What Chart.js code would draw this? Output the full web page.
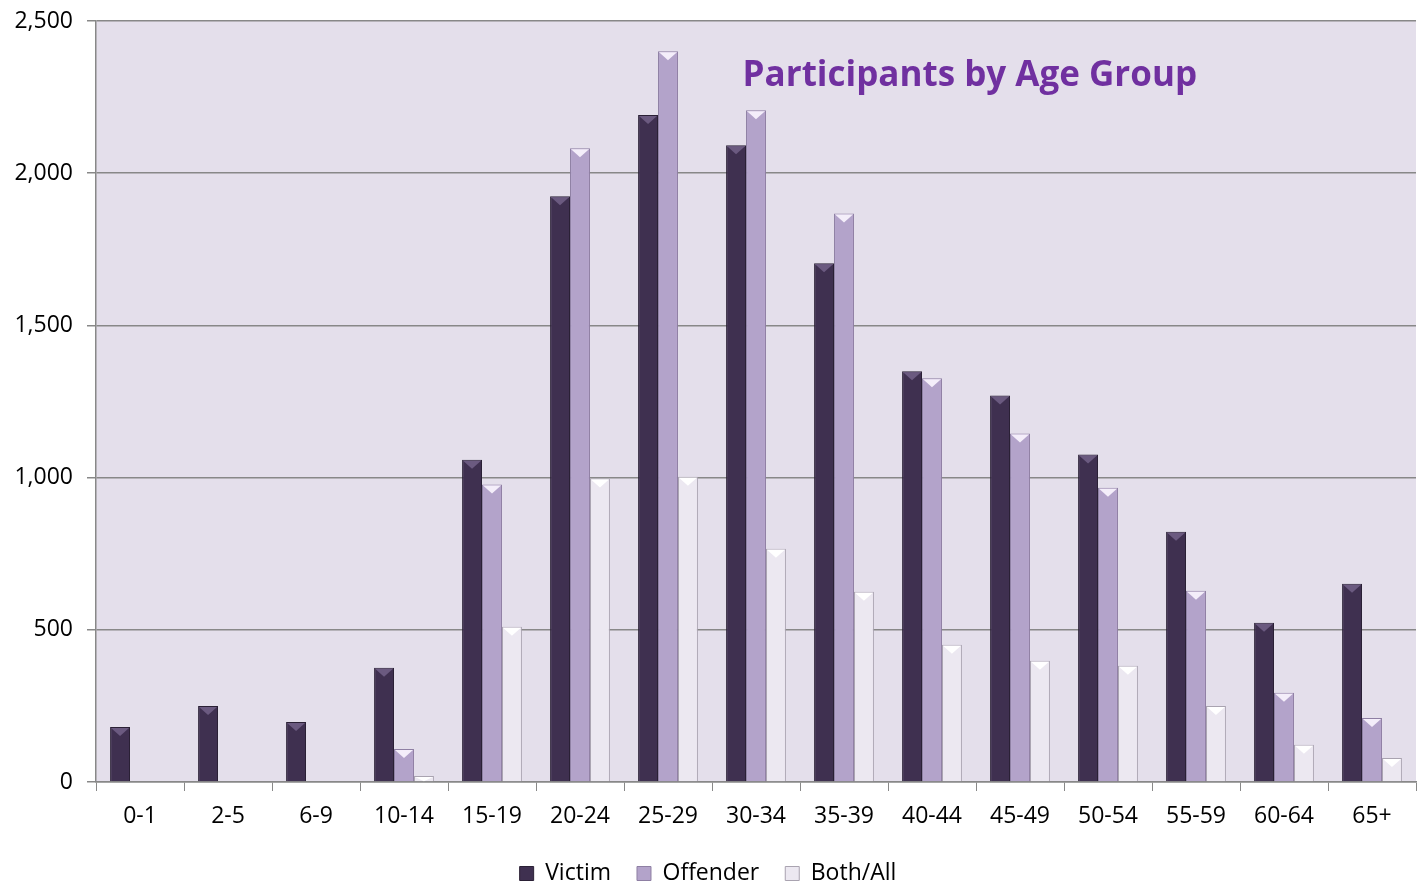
<!DOCTYPE html>
<html>
<head>
<meta charset="utf-8">
<script src="https://cdn.jsdelivr.net/npm/chart.js@4"></script>
<style>
  html, body { margin: 0; padding: 0; background: #fff; }
  #wrap { width: 1426px; height: 888px; }
</style>
</head>
<body>
<div id="wrap"><canvas id="agechart"></canvas></div>
<script>
const ageGroups = ['0-1','2-5','6-9','10-14','15-19','20-24','25-29','30-34','35-39','40-44','45-49','50-54','55-59','60-64','65+'];
const victim   = [181, 250, 197, 375, 1059, 1924, 2191, 2092, 1704, 1349, 1270, 1076, 822, 523, 651];
const offender = [0, 0, 0, 108, 977, 2082, 2401, 2207, 1868, 1326, 1145, 967, 628, 293, 210];
const bothAll  = [0, 0, 0, 20, 510, 997, 1003, 766, 625, 451, 398, 382, 250, 122, 79];
const yTicks = [0, 500, 1000, 1500, 2000, 2500];

const FONT = '"Open Sans", "DejaVu Sans", sans-serif';

// plot area fill + title drawn inside it
const plotDeco = {
  id: 'plotDeco',
  beforeDraw(chart) {
    const a = chart.chartArea, c = chart.ctx;
    c.save();
    c.fillStyle = '#E4DFEB';
    c.fillRect(a.left, a.top, a.right - a.left, a.bottom - a.top);
    c.restore();
  },
  afterDatasetsDraw(chart) {
    const c = chart.ctx, a = chart.chartArea;
    // little pyramid caps on bar tops
    chart.data.datasets.forEach((ds, i) => {
      const meta = chart.getDatasetMeta(i);
      meta.data.forEach((bar, j) => {
        if (!ds.data[j]) return;
        const w = bar.width, x = bar.x, y = bar.y;
        c.save();
        c.fillStyle = ds.capColor;
        c.beginPath();
        c.moveTo(x - w / 2 + 1, y + 1);
        c.lineTo(x + w / 2 - 1, y + 1);
        c.lineTo(x, y + Math.min(9, bar.base - y));
        c.closePath();
        c.fill();
        c.restore();
      });
    });
    c.save();
    c.font = 'bold 35px ' + FONT;
    c.fillStyle = '#7030A0';
    c.textAlign = 'center';
    c.textBaseline = 'middle';
    c.fillText('Participants by Age Group', a.left + (a.right - a.left) * 0.662, a.top + 55);
    c.restore();
  }
};

new Chart(document.getElementById('agechart'), {
  type: 'bar',
  data: {
    labels: ageGroups,
    datasets: [
      { label: 'Victim', data: victim, backgroundColor: '#3F3050', borderColor: '#2A2035', borderWidth: 1, capColor: '#6B5A80' },
      { label: 'Offender', data: offender, backgroundColor: '#B3A3CA', borderColor: '#8E7FA3', borderWidth: 1, capColor: '#F4EEFA' },
      { label: 'Both/All', data: bothAll, backgroundColor: '#ECE8F1', borderColor: '#A9A3B0', borderWidth: 1, capColor: '#FFFFFF' }
    ]
  },
  options: {
    responsive: true,
    maintainAspectRatio: false,
    animation: false,
    layout: { padding: { top: 21, right: 10, left: 0, bottom: -7 } },
    datasets: { bar: { categoryPercentage: 0.68, barPercentage: 1.0 } },
    plugins: {
      legend: {
        position: 'bottom',
        labels: {
          font: { family: FONT, size: 23 },
          color: '#000',
          boxWidth: 14,
          boxHeight: 14,
          padding: 26
        }
      },
      title: { display: false },
      tooltip: { enabled: false }
    },
    scales: {
      x: {
        grid: { display: true, drawOnChartArea: false, color: '#888', tickLength: 9 },
        border: { color: '#888', width: 1.5 },
        ticks: { font: { family: FONT, size: 23 }, color: '#000', padding: 12, maxRotation: 0 },
        afterFit(s) { s.height = 54; }
      },
      y: {
        min: 0, max: 2500,
        afterBuildTicks(s) { s.ticks = yTicks.map(v => ({ value: v })); },
        grid: { color: '#888', lineWidth: 1.5, tickLength: 9 },
        border: { color: '#888', width: 1.5 },
        ticks: {
          font: { family: FONT, size: 23 }, color: '#000', padding: 14,
          callback: v => v.toLocaleString('en-US')
        },
        afterFit(s) { s.width = 96; s.paddingTop = 0; s.paddingBottom = 0; }
      }
    }
  },
  plugins: [plotDeco]
});
</script>
</body>
</html>
